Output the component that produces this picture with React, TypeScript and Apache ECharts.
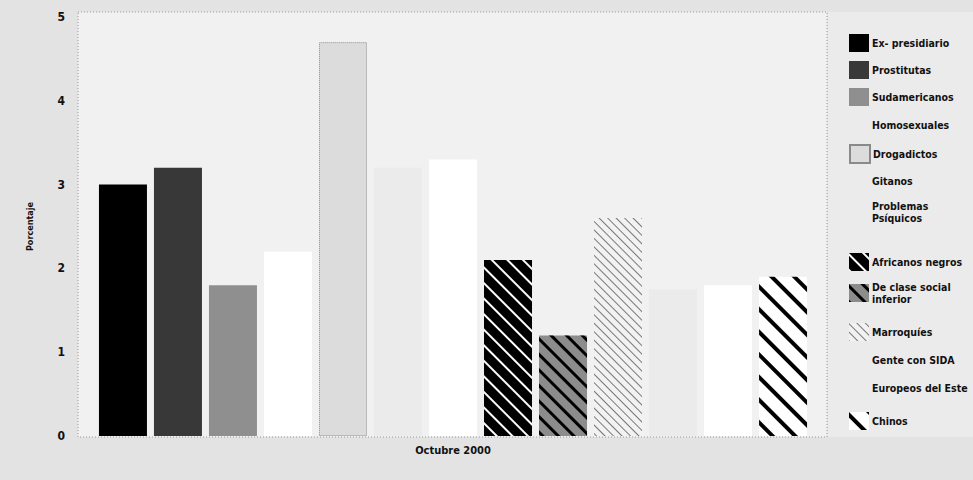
import React, { useEffect, useRef } from "react";
import * as echarts from "echarts";

const categories = ["Octubre 2000"];
const seriesNames = [
  "Ex- presidiario",
  "Prostitutas",
  "Sudamericanos",
  "Homosexuales",
  "Drogadictos",
  "Gitanos",
  "Problemas\nPsíquicos",
  "Africanos negros",
  "De clase social\ninferior",
  "Marroquíes",
  "Gente con SIDA",
  "Europeos del Este",
  "Chinos",
];
const values = [3.0, 3.2, 1.8, 2.2, 4.7, 3.2, 3.3, 2.1, 1.2, 2.6, 1.75, 1.8, 1.9];
const yTickLabels = ["0", "1", "2", "3", "4", "5"];

const FONT = "'DejaVu Sans Condensed', 'Liberation Sans Narrow', 'Roboto', sans-serif";
const ROT = Math.PI / 4;

const stripes = (color: string, w: number, gap: number) => ({
  symbol: "rect",
  symbolSize: 1,
  dashArrayX: [1, 0],
  dashArrayY: [w, gap],
  rotation: ROT,
  color,
});

const styles: any[] = [
  { color: "#000000" },
  { color: "#383838" },
  { color: "#8f8f8f" },
  { color: "#ffffff" },
  { color: "#dcdcdc", borderColor: "#8a8a8a", borderWidth: 1, borderType: "dotted" },
  { color: "#ebebeb" },
  { color: "#ffffff" },
  { color: "#000000", decal: stripes("#ffffff", 2, 9) },
  { color: "#8c8c8c", decal: stripes("#000000", 3, 8) },
  { color: "#f2f2f2", decal: stripes("#777777", 1, 5) },
  { color: "#ebebeb" },
  { color: "#ffffff" },
  { color: "#ffffff", decal: stripes("#000000", 4, 12) },
];
// legend icons that are not visible in the reference
const hiddenIcon = [false, false, false, true, false, true, true, false, false, false, true, true, false];

// legend icon centers (layout)
const legendCenters = [43, 70, 97, 125, 153, 181, 212, 262, 293, 332, 360, 388, 421];

export default function App() {
  const ref = useRef<HTMLDivElement>(null);
  useEffect(() => {
    const chart = echarts.init(ref.current!, null, { renderer: "svg" });
    const legends = seriesNames.map((name, i) => {
      const twoLine = name.includes("\n");
      return {
        data: [hiddenIcon[i] ? { name, itemStyle: { opacity: 0 } } : { name }],
        left: 849,
        top: legendCenters[i] - (twoLine ? 12 : 9),
        orient: "vertical",
        padding: 0,
        itemWidth: 20,
        itemHeight: 18,
        itemGap: 0,
        selectedMode: false,
        icon: "rect",
        textStyle: {
          fontFamily: FONT,
          fontWeight: "bold",
          fontSize: 10.5,
          lineHeight: 12,
          color: "#111",
          padding: [0, 0, 0, -2],
        },
      };
    });
    chart.setOption({
      animation: false,
      backgroundColor: "#e3e3e3",
      graphic: [
        {
          type: "rect",
          z: -10,
          shape: { x: 78, y: 12, width: 749, height: 425 },
          style: { fill: "#f1f1f1", stroke: "#9a9a9a", lineWidth: 1, lineDash: [1, 2] },
        },
        {
          type: "rect",
          z: -10,
          shape: { x: 828, y: 12, width: 145, height: 425 },
          style: { fill: "#ebebeb" },
        },
      ],
      legend: legends,
      grid: { left: 80, right: 147, top: 17, bottom: 44 },
      xAxis: {
        type: "category",
        data: categories,
        axisLine: { show: false },
        axisTick: { show: false },
        axisLabel: {
          fontFamily: FONT,
          fontWeight: "bold",
          fontSize: 11,
          color: "#111",
          margin: 9,
        },
      },
      yAxis: {
        type: "value",
        min: 0,
        max: 5,
        interval: 1,
        name: "Porcentaje",
        nameLocation: "middle",
        nameRotate: 90,
        nameGap: 46,
        nameTextStyle: { fontFamily: FONT, fontWeight: "bold", fontSize: 9, color: "#111" },
        axisLine: { show: false },
        axisTick: { show: false },
        splitLine: { show: false },
        axisLabel: {
          fontFamily: FONT,
          fontWeight: "bold",
          fontSize: 12,
          color: "#111",
          margin: 15,
          formatter: (v: number) => yTickLabels[Math.round(v)] ?? String(v),
        },
      },
      series: seriesNames.map((name, i) => ({
        name,
        type: "bar",
        data: [values[i]],
        barWidth: 48,
        barGap: "14.6%",
        itemStyle: styles[i],
        emphasis: { disabled: true },
      })),
    });
    return () => chart.dispose();
  }, []);
  return (
    <div
      ref={ref}
      style={{ position: "fixed", left: 0, top: 0, width: 973, height: 480 }}
    />
  );
}
